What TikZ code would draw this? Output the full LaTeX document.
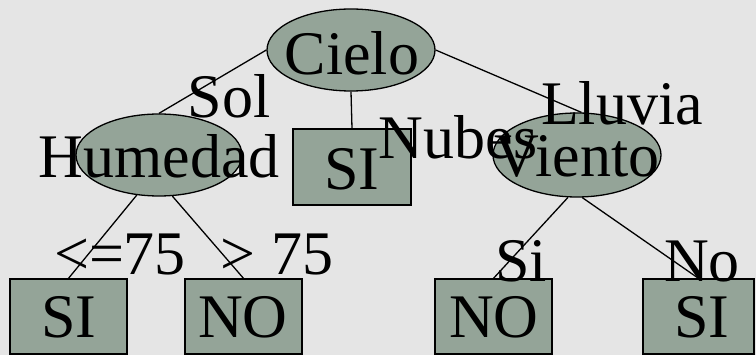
\documentclass[tikz,border=0pt]{standalone}
\usepackage{fontspec}
\setmainfont{Liberation Serif}
\usetikzlibrary{shapes.geometric}
\definecolor{bgcol}{RGB}{229,229,229}
\definecolor{nodefill}{RGB}{148,164,152}
\begin{document}
\begin{tikzpicture}[x=1pt,y=-1pt,
  big/.style={font=\fontsize{62pt}{62pt}\selectfont, inner sep=0pt, anchor=base},
  oval/.style={ellipse, draw=black, line width=1.3pt, fill=nodefill, inner sep=0pt},
  leaf/.style={rectangle, draw=black, line width=1.3pt, fill=nodefill, inner sep=0pt},
  edge/.style={line width=1.3pt}]
  % page
  \fill[bgcol] (0,0) rectangle (756,355);
  \useasboundingbox (0,0) rectangle (756,355);

  % decision nodes and leaves
  \node[oval, minimum width=168pt, minimum height=82pt] (cielo) at (351,50) {};
  \node[oval, minimum width=166pt, minimum height=82pt] (hum) at (159,155) {};
  \node[oval, minimum width=168pt, minimum height=84pt] (viento) at (577,155) {};
  \node[leaf, minimum width=118pt, minimum height=76pt] (simid) at (352,167) {};
  \node[leaf, minimum width=117pt, minimum height=75pt] (si1) at (68.5,316.5) {};
  \node[leaf, minimum width=117pt, minimum height=75pt] (no1) at (243.5,316.5) {};
  \node[leaf, minimum width=117pt, minimum height=75pt] (no2) at (493.5,316.5) {};
  \node[leaf, minimum width=111pt, minimum height=75pt] (si2) at (698.5,316.5) {};

  % branches
  \draw[edge] (cielo.west) -- (hum.north);
  \draw[edge] (cielo.south) -- (simid.north);
  \draw[edge] (cielo.east) -- (viento.84);
  \draw[edge] (hum.241) -- (si1.north);
  \draw[edge] (hum.288) -- (no1.north);
  \draw[edge] (viento.258) -- (no2.north);
  \draw[edge] (viento.277) -- (si2.north);

  % node texts
  \node[big] (tcielo) at (352,75) {Cielo};
  \node[big] (thum) at (159,178) {Humedad};
  \node[big] (tviento) at (577,177) {Viento};
  \node[big] (tsimid) at (352,190) {SI};
  \node[big] (tsi1) at (69,338) {SI};
  \node[big] (tno1) at (243,338) {NO};
  \node[big] (tno2) at (494,338) {NO};
  \node[big] (tsi2) at (702,338) {SI};

  % branch labels
  \node[big] (lsol) at (229,118) {Sol};
  \node[big] (lnubes) at (458,159) {Nubes};
  \node[big] (llluvia) at (622,125) {Lluvia};
  \node[big] (lle) at (120,275) {<=75};
  \node[big] (lgt) at (277,275) {> 75};
  \node[big] (lsi) at (521,282) {Si};
  \node[big] (lno) at (702,282) {No};
\end{tikzpicture}
\end{document}
